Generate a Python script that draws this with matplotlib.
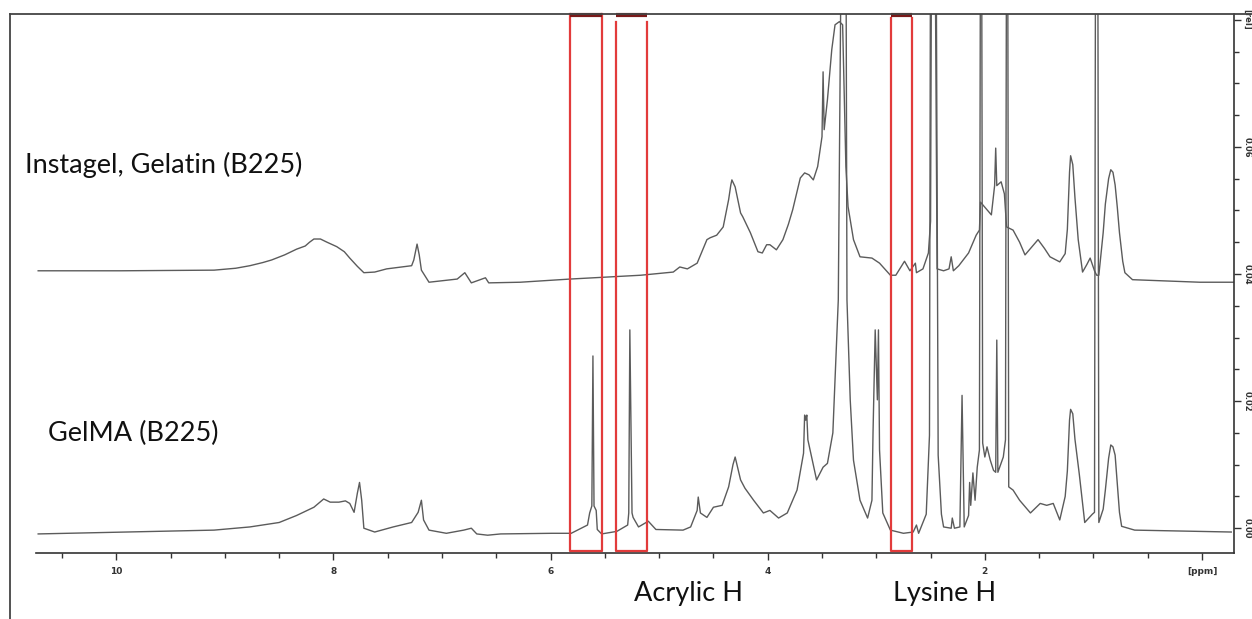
import matplotlib
matplotlib.use("Agg")
import matplotlib.pyplot as plt
from matplotlib.lines import Line2D

# 1H NMR traces: (chemical shift in ppm, intensity in rel)
gelatin_trace = [
    (10.72, .0405), (9.96, .0405), (9.10, .0406), (8.90, .0409), (8.77, .0413), (8.65, .0418),
    (8.57, .0422), (8.45, .0430), (8.34, .0439), (8.26, .0444), (8.22, .0450), (8.18, .0455),
    (8.12, .0455), (8.06, .0450), (7.97, .0443), (7.90, .0435), (7.85, .0425), (7.78, .0412),
    (7.72, .0402), (7.62, .0403), (7.51, .0408), (7.28, .0413), (7.26, .0422), (7.23, .0447),
    (7.21, .0430), (7.19, .0406), (7.12, .0387), (6.86, .0392), (6.79, .0402), (6.73, .0386),
    (6.60, .0394), (6.57, .0386), (6.28, .0387), (5.82, .0392), (5.17, .0398), (4.87, .0403),
    (4.81, .0411), (4.74, .0408), (4.65, .0417), (4.56, .0454), (4.53, .0457), (4.47, .0461),
    (4.41, .0474), (4.36, .0517), (4.34, .0540), (4.33, .0548), (4.30, .0537), (4.25, .0496),
    (4.23, .0490), (4.16, .0465), (4.09, .0435), (4.05, .0433), (4.01, .0446), (3.98, .0446),
    (3.92, .0438), (3.86, .0454), (3.81, .0478), (3.77, .0501), (3.73, .0530), (3.70, .0551),
    (3.66, .0559), (3.62, .0556), (3.58, .0548), (3.54, .0569), (3.50, .0616), (3.49, .0718),
    (3.48, .0627), (3.45, .0674), (3.41, .0753), (3.38, .0792), (3.34, .0797), (3.31, .0792),
    (3.29, .0647), (3.28, .0569), (3.26, .0506), (3.21, .0454), (3.15, .0427), (3.04, .0425),
    (2.97, .0417), (2.87, .0398), (2.82, .0398), (2.74, .0420), (2.69, .0405), (2.64, .0417),
    (2.63, .0402), (2.57, .0408), (2.52, .0433), (2.50, .0483), (2.49, .0990), (2.46, .0990),
    (2.44, .0408), (2.38, .0405), (2.33, .0408), (2.31, .0427), (2.29, .0405), (2.24, .0413),
    (2.15, .0433), (2.08, .0461), (2.05, .0469), (2.04, .0513), (2.01, .0507), (1.94, .0493),
    (1.91, .0539), (1.90, .0598), (1.89, .0539), (1.85, .0545), (1.82, .0526), (1.80, .0474),
    (1.74, .0469), (1.68, .0450), (1.63, .0430), (1.57, .0442), (1.51, .0454), (1.45, .0440),
    (1.40, .0427), (1.31, .0419), (1.26, .0432), (1.24, .0470), (1.22, .0560), (1.21, .0586),
    (1.19, .0572), (1.17, .0520), (1.14, .0454), (1.10, .0403), (1.06, .0415), (1.03, .0425),
    (0.99, .0405), (0.97, .0398), (0.95, .0398), (0.91, .0465), (0.89, .0510), (0.86, .0550),
    (0.84, .0564), (0.82, .0560), (0.80, .0540), (0.78, .0505), (0.76, .0465), (0.73, .0420),
    (0.71, .0402), (0.64, .0391), (0.02, .0387), (-0.29, .0387),
]

gelma_trace = [
    (10.72, -.0009), (9.10, -.0003), (8.77, .0002), (8.50, .0009), (8.34, .0020), (8.18, .0033),
    (8.09, .0046), (8.03, .0041), (7.95, .0041), (7.89, .0043), (7.85, .0039), (7.81, .0025),
    (7.78, .0055), (7.76, .0072), (7.74, .0044), (7.72, .0000), (7.62, -.0006), (7.45, .0002),
    (7.28, .0009), (7.22, .0025), (7.19, .0044), (7.17, .0013), (7.12, -.0003), (6.96, -.0008),
    (6.80, -.0003), (6.73, .0000), (6.68, -.0009), (6.58, -.0011), (6.46, -.0009), (5.99, -.0008),
    (5.81, -.0008), (5.66, .0005), (5.64, .0024), (5.62, .0035), (5.61, .0271), (5.60, .0035),
    (5.58, .0028), (5.57, -.0002), (5.53, -.0009), (5.39, -.0005), (5.29, .0005), (5.28, .0024),
    (5.27, .0312), (5.25, .0024), (5.24, .0017), (5.19, .0002), (5.10, .0011), (5.03, -.0002),
    (4.78, -.0003), (4.71, .0002), (4.65, .0028), (4.64, .0049), (4.62, .0024), (4.56, .0017),
    (4.50, .0033), (4.42, .0036), (4.36, .0065), (4.32, .0100), (4.30, .0112), (4.27, .0090),
    (4.25, .0076), (4.21, .0063), (4.13, .0044), (4.04, .0024), (3.98, .0028), (3.90, .0016),
    (3.82, .0024), (3.73, .0060), (3.67, .0118), (3.66, .0178), (3.65, .0170), (3.64, .0178),
    (3.63, .0139), (3.55, .0076), (3.49, .0096), (3.45, .0102), (3.40, .0150), (3.35, .0359),
    (3.32, .0990), (3.28, .0990), (3.27, .0359), (3.24, .0202), (3.21, .0107), (3.15, .0044),
    (3.08, .0016), (3.04, .0044), (3.03, .0150), (3.01, .0312), (2.99, .0202), (2.98, .0312),
    (2.97, .0123), (2.94, .0024), (2.87, -.0003), (2.75, -.0008), (2.66, -.0006), (2.63, .0005),
    (2.61, -.0008), (2.54, .0022), (2.51, .0146), (2.50, .0990), (2.45, .0990), (2.43, .0115),
    (2.40, .0022), (2.38, .0002), (2.31, .0000), (2.30, .0016), (2.28, .0000), (2.23, .0002),
    (2.21, .0209), (2.19, .0002), (2.15, .0020), (2.14, .0072), (2.13, .0036), (2.11, .0087),
    (2.09, .0044), (2.07, .0096), (2.05, .0123), (2.04, .0990), (2.03, .0990), (2.02, .0134),
    (2.00, .0112), (1.98, .0128), (1.95, .0107), (1.92, .0091), (1.90, .0088), (1.89, .0296),
    (1.88, .0088), (1.83, .0112), (1.81, .0139), (1.80, .0990), (1.79, .0990), (1.78, .0065),
    (1.74, .0060), (1.68, .0044), (1.58, .0024), (1.49, .0039), (1.43, .0036), (1.37, .0039),
    (1.31, .0013), (1.26, .0050), (1.24, .0090), (1.22, .0170), (1.21, .0187), (1.19, .0180),
    (1.17, .0140), (1.13, .0085), (1.08, .0009), (1.01, .0022), (0.99, .0025), (0.98, .0990),
    (0.96, .0990), (0.95, .0009), (0.91, .0030), (0.89, .0060), (0.86, .0110), (0.84, .0131),
    (0.82, .0128), (0.80, .0115), (0.78, .0070), (0.76, .0025), (0.74, .0003), (0.62, -.0003),
    (-0.27, -.0006),
]

# highlighted regions (ppm) and where their red lines start at the top
box_left = [5.82, 5.40, 2.86]
box_right = [5.53, 5.11, 2.67]
box_top = [0.0809, 0.0797, 0.0803]

x_ticks = [10, 8, 6, 4, 2, 0]
x_ticklabels = ["10", "8", "6", "4", "2", "[ppm]"]
y_ticks = [0.00, 0.02, 0.04, 0.06, 0.08]
y_ticklabels = ["0.00", "0.02", "0.04", "0.06", "[rel]"]

W, H = 1252, 619
fig = plt.figure(figsize=(W / 100, H / 100), dpi=100)
ax = fig.add_axes([36 / W, (H - 553) / H, (1234 - 36) / W, (553 - 14) / H])

line_color = "#5b5b5b"
ax.plot([p[0] for p in gelatin_trace], [p[1] for p in gelatin_trace], color=line_color, lw=1.0)
ax.plot([p[0] for p in gelma_trace], [p[1] for p in gelma_trace], color=line_color, lw=1.0)

ax.set_xlim(10.74, -0.295)
ax.set_ylim(-0.0039, 0.0809)

# only bottom and right axis lines, like the spectrometer printout
ax.spines["top"].set_visible(False)
ax.spines["left"].set_visible(False)
for s in ["bottom", "right"]:
    ax.spines[s].set_color("#333333")
    ax.spines[s].set_linewidth(1.2)

ax.yaxis.tick_right()
ax.set_xticks(x_ticks)
ax.set_xticklabels(x_ticklabels)
ax.set_xticks([t / 2 for t in range(22)], minor=True)
ax.set_yticks(y_ticks)
ax.set_yticklabels(y_ticklabels, rotation=270, va="center")
ax.set_yticks([i * 0.005 for i in range(17)], minor=True)
ax.tick_params(axis="x", which="major", direction="out", length=5, width=1,
               color="#333333", labelsize=6.5, labelcolor="#333333", pad=5)
ax.tick_params(axis="y", which="major", direction="out", length=5, width=1,
               color="#333333", labelsize=6, labelcolor="#333333", pad=1)
ax.tick_params(axis="both", which="minor", direction="out", length=3.5, width=1,
               color="#333333")
for lab in ax.get_xticklabels() + ax.get_yticklabels():
    lab.set_fontweight("bold")

# red boxes marking the acrylic and lysine protons
for x0, x1, yt in zip(box_left, box_right, box_top):
    ax.plot([x0, x0, x1, x1], [yt, -0.0036, -0.0036, yt], color="#e23b3b", lw=1.6,
            clip_on=False, zorder=5)
    ax.plot([x0, x1], [0.0807, 0.0807], color="#7a1a1a", lw=3, clip_on=False,
            solid_capstyle="butt", zorder=6)

# outer frame of the figure
fig.add_artist(Line2D([10 / W, 10 / W], [0, (H - 14) / H], color="#444444", lw=1.3))
fig.add_artist(Line2D([10 / W, 1], [(H - 14) / H, (H - 14) / H], color="#444444", lw=1.3))

label_font = ["Lato", "DejaVu Sans"]
fig.text(25 / W, (H - 165) / H, "Instagel, Gelatin (B225)", fontsize=19.5,
         family=label_font, va="center", ha="left", color="#111111")
fig.text(48 / W, (H - 433) / H, "GelMA (B225)", fontsize=19.5,
         family=label_font, va="center", ha="left", color="#111111")
fig.text(688 / W, (H - 593) / H, "Acrylic H", fontsize=19.5,
         family=label_font, va="center", ha="center", color="#111111")
fig.text(945 / W, (H - 593) / H, "Lysine H", fontsize=19.5,
         family=label_font, va="center", ha="center", color="#111111")

plt.savefig("out.png", dpi=100)
